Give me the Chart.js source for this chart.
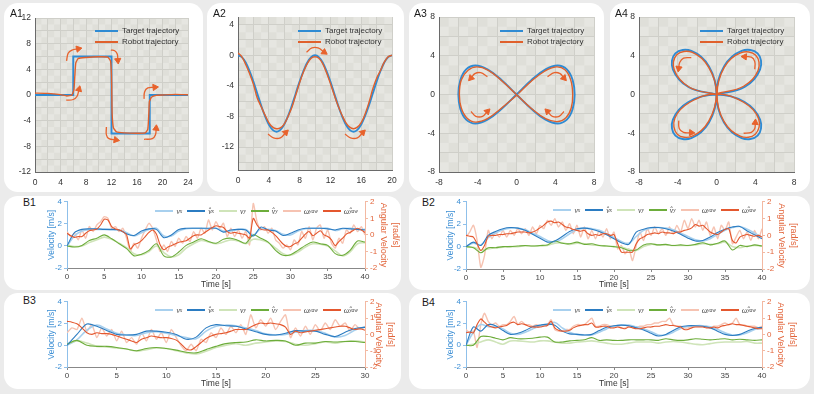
<!DOCTYPE html>
<html><head><meta charset="utf-8">
<script src="https://cdn.jsdelivr.net/npm/chart.js@4.4.1/dist/chart.umd.min.js"></script>
<style>
html,body{margin:0;padding:0}
body{width:814px;height:394px;background:#ebebeb;position:relative;overflow:hidden;font-family:"Liberation Sans",Arial,sans-serif}
.panel{position:absolute;background:#fff;border-radius:14px}
canvas{position:absolute}
.ttl{position:absolute;font-size:10.5px;color:#1a1a1a;line-height:12px}
.alg{position:absolute;font-size:8px;color:#333}
.alg .row{display:flex;align-items:center;height:11px;white-space:nowrap}
.alg .sw{display:inline-block;width:23px;height:2px;margin-right:4px}
.blg{position:absolute;display:flex;align-items:center;height:10px;font-family:"Liberation Serif","DejaVu Serif",serif;font-style:italic;font-size:7.5px;color:#444;white-space:nowrap}
.blg .it{display:flex;align-items:center;margin-left:5px}
.blg .sw{display:inline-block;width:18px;height:1.6px;margin-right:3px}
.blg sub{font-size:5.5px;vertical-align:-1.5px}
</style></head><body>
<script>
// ---------------- DATA ----------------
// A panels (x, y pairs of trajectories)
const a1Target = [[0,0],[6,0],[6,6],[12,6],[12,-6],[18,-6],[18,0],[24,0]];
const a1Robot = [[0,0.3],[2,0.25],[4,0.05],[5,-0.15],[5.8,0.0],[6.1,0.8],[6.25,3],[6.4,5.0],[6.8,5.7],[8,5.85],[10,5.95],[11.4,5.9],[11.85,5.3],[12.0,3],[12.05,0],[12.1,-3],[12.3,-5.1],[12.8,-5.75],[14,-5.9],[16,-5.95],[17.3,-5.9],[17.7,-5.3],[17.85,-3],[17.95,-1],[18.3,-0.3],[19,-0.05],[20,0.0],[22,0.1],[24,0.05]];
const a2Step = 0.5;
const a2Target = [0,-0.24,-0.95,-2.06,-3.45,-5,-6.55,-7.94,-9.05,-9.76,-10,-9.76,-9.05,-7.94,-6.55,-5,-3.45,-2.06,-0.95,-0.24,0,-0.24,-0.95,-2.06,-3.45,-5,-6.55,-7.94,-9.05,-9.76,-10,-9.76,-9.05,-7.94,-6.55,-5,-3.45,-2.06,-0.95,-0.24,0];
const a2Robot = [0.3,-0.2,-1.2,-2.4,-3.8,-5.6,-6.7,-7.8,-8.8,-9.4,-9.6,-9.5,-9.0,-8.0,-6.8,-5.2,-3.6,-2.2,-1.1,-0.4,-0.2,-0.4,-1.1,-2.3,-3.7,-5.2,-6.6,-7.8,-8.8,-9.4,-9.6,-9.4,-8.8,-7.7,-6.2,-4.4,-3.0,-2.0,-0.9,-0.2,0.0];
const a3Target = [[0,0],[1.553,1.5],[3,2.598],[4.243,3],[5.196,2.598],[5.796,1.5],[6,0],[5.796,-1.5],[5.196,-2.598],[4.243,-3],[3,-2.598],[1.553,-1.5],[0,0],[-1.553,1.5],[-3,2.598],[-4.243,3],[-5.196,2.598],[-5.796,1.5],[-6,0],[-5.796,-1.5],[-5.196,-2.598],[-4.243,-3],[-3,-2.598],[-1.553,-1.5],[0,0]];
const a3Robot = [[0.2,0.1],[1.5,1.35],[2.9,2.4],[4.1,2.85],[5.0,2.55],[5.6,1.5],[5.8,0.0],[5.65,-1.4],[5.1,-2.4],[4.2,-2.8],[3.0,-2.5],[1.6,-1.5],[0.1,-0.1],[-1.5,1.4],[-2.9,2.5],[-4.1,2.85],[-5.0,2.5],[-5.7,1.5],[-5.9,0.0],[-5.7,-1.4],[-5.1,-2.45],[-4.2,-2.85],[-3.0,-2.5],[-1.6,-1.45],[0.0,-0.1]];
const a4Target = [[0,0],[2.898,0.776],[4.5,2.598],[4.243,4.243],[2.598,4.5],[0.776,2.898],[0,0],[0.776,-2.898],[2.598,-4.5],[4.243,-4.243],[4.5,-2.598],[2.898,-0.776],[0,0],[-2.898,-0.776],[-4.5,-2.598],[-4.243,-4.243],[-2.598,-4.5],[-0.776,-2.898],[0,0],[-0.776,2.898],[-2.598,4.5],[-4.243,4.243],[-4.5,2.598],[-2.898,0.776],[0,0]];
const a4Robot = [[0.1,0.1],[2.8,0.85],[4.3,2.5],[4.05,4.05],[2.5,4.3],[0.8,2.8],[0.05,0.0],[0.75,-2.75],[2.45,-4.3],[4.0,-4.1],[4.35,-2.5],[2.8,-0.8],[0.0,0.05],[-2.75,-0.8],[-4.3,-2.45],[-4.05,-4.1],[-2.5,-4.3],[-0.8,-2.75],[0.0,0.1],[-0.8,2.8],[-2.5,4.35],[-4.1,4.1],[-4.35,2.5],[-2.8,0.75],[0.0,0.0]];
// direction arrows (data coordinates, last point = arrow head)
const a1Arrows = [[[4.95,5.3],[5.2,6.5],[5.8,7.0],[6.8,7.2]],[[11.9,7.0],[12.5,6.9],[12.9,6.4],[13.0,5.4]],[[4.9,-0.8],[6.0,-0.7],[6.6,-0.2],[6.9,0.9]],[[11.2,-5.0],[11.2,-6.2],[11.6,-6.8],[12.7,-7.0]],[[17.1,-6.9],[18.4,-6.8],[18.9,-6.2],[19.0,-5.2]],[[17.1,-0.6],[17.2,0.5],[17.7,1.1],[18.8,1.2]]];
const a2Arrows = [[[8.9,0.4],[9.6,0.95],[10.4,0.95],[11.2,0.4]],[[3.9,-10.3],[4.6,-10.8],[5.5,-10.8],[6.2,-10.1]],[[13.9,-10.3],[14.6,-10.8],[15.5,-10.8],[16.2,-10.1]]];
const a3Arrows = [[[3.2,1.85],[3.9,2.25],[4.5,2.15],[4.9,1.7]],[[-3.0,1.85],[-3.7,2.25],[-4.3,2.15],[-4.7,1.7]],[[-4.7,-1.75],[-4.2,-2.25],[-3.5,-2.25],[-3.0,-1.75]],[[4.9,-1.75],[4.4,-2.25],[3.7,-2.25],[3.2,-1.75]]];
const a4Arrows = [[[-2.6,3.8],[-3.4,3.75],[-3.8,3.3],[-3.9,2.7]],[[3.95,2.6],[3.95,3.4],[3.6,3.85],[2.9,3.9]],[[-3.9,-2.7],[-3.85,-3.5],[-3.4,-3.9],[-2.6,-3.95]],[[2.8,-4.0],[3.6,-3.9],[3.95,-3.5],[4.0,-2.9]]];
// A tick labels
const a1XLabels = [0,4,8,12,16,20,24];
const a1YLabels = [-12,-8,-4,0,4,8,12];
const a2XLabels = [0,4,8,12,16,20];
const a2YLabels = [-12,-8,-4,0,4];
const a34Labels = [-8,-4,0,4,8];
const aLegendLabels = ['Target trajectory','Robot trajectory'];
const panelTitles = ['A1','A2','A3','A4','B1','B2','B3','B4'];

// B panels: velocities sampled every 1 s, angular velocities every 0.5 s
const vStep = 1, wStep = 0.5;
const b1Vx    = [0,0.9,1.35,1.5,1.5,1.5,1.45,1.45,1.2,0.9,1.2,1.5,1.6,0.9,0.9,1.35,1.55,1.6,1.6,1.55,1.6,1.35,1.35,1.5,1.5,1.0,1.55,1.5,1.4,1.05,1.0,1.35,1.55,1.6,1.6,1.6,1.4,1.55,1.6,1.5,1.5];
const b1VxHat = [0,1.2,1.5,1.55,1.55,1.5,1.5,1.45,1.1,0.95,1.35,1.55,1.5,0.75,1.0,1.5,1.6,1.6,1.6,1.6,1.6,1.25,1.45,1.5,1.45,0.9,1.7,1.45,1.35,0.95,1.15,1.45,1.6,1.6,1.6,1.55,1.45,1.6,1.55,1.5,1.45];
const b1Vy    = [0.1,-0.05,0.0,0.3,0.55,0.8,0.6,0.25,-0.15,-0.7,-0.8,-0.5,0.0,-0.6,-1.0,-0.8,-0.2,0.2,0.5,0.35,0.2,0.35,0.55,0.45,0.2,0.6,0.55,0.3,-0.2,-0.7,-0.85,-0.55,-0.1,0.2,0.15,0.0,-0.45,-0.9,-0.55,0.2,0.3];
const b1VyHat = [0,-0.1,0.05,0.5,0.7,1.0,0.65,0.2,-0.25,-0.9,-0.75,-0.4,0.2,-0.9,-1.0,-0.55,0.05,0.35,0.65,0.4,0.25,0.6,0.7,0.5,0.25,1.0,0.7,0.35,-0.4,-0.85,-0.8,-0.4,0.05,0.35,0.2,0.05,-0.7,-0.85,-0.4,0.45,0.35];
const b1W     = [0.2,-0.1,0.1,-0.3,0.3,-0.2,0.5,0.2,0.6,0.8,1.1,1.0,0.4,0.5,0.2,0.4,-0.2,-1.0,-0.5,-0.8,-0.2,0.3,0.7,0.4,-0.3,-1.0,-0.6,-1.0,-0.4,-0.7,-0.2,-0.5,-0.1,-0.4,0.2,-0.2,0.4,0.1,0.9,0.3,0.8,0.4,0.7,-0.1,0.4,-0.1,0.3,-0.2,0.2,-0.6,1.9,0.8,0.3,0.5,0.1,0.4,-0.3,-0.5,-0.8,-0.6,-0.9,-0.3,-0.6,0.2,-0.2,0.5,-0.3,0.4,0.6,-0.2,0.3,-0.5,-0.8,-0.2,-0.5,0.3,0.1,0.6,0.2,0.5,0.0];
const b1WHat  = [0.1,-0.05,-0.15,-0.1,-0.1,0.1,0.25,0.3,0.35,0.6,0.95,0.9,0.5,0.35,0.3,0.2,0.0,-0.85,-0.6,-0.5,-0.35,-0.1,0.15,0.3,0.05,-0.6,-0.9,-0.75,-0.65,-0.55,-0.45,-0.4,-0.35,-0.2,-0.05,0.0,0.0,0.15,0.3,0.45,0.55,0.5,0.45,0.2,0.1,0.15,0.1,0.05,0.0,-0.2,1.0,0.6,0.35,0.3,0.3,0.15,-0.05,-0.3,-0.55,-0.7,-0.7,-0.55,-0.45,-0.2,0.05,0.2,-0.05,0.1,0.25,0.0,-0.1,-0.3,-0.65,-0.4,-0.2,0.05,0.15,0.3,0.4,0.3,0.15];

const b2Vx    = [0,0.3,0.15,0.8,1.2,1.5,1.65,1.65,1.5,1.2,0.9,0.55,0.4,0.7,1.15,1.5,1.65,1.6,1.45,1.15,0.8,0.45,0.3,0.9,1.45,1.65,1.7,1.65,1.5,1.2,0.9,0.6,0.5,0.7,1.1,1.45,1.7,1.8,1.55,1.2,0.85];
const b2VxHat = [0,0.4,0.1,1.0,1.35,1.6,1.7,1.65,1.45,1.1,0.75,0.4,0.5,0.9,1.35,1.6,1.65,1.55,1.35,1.05,0.7,0.35,0.2,1.3,1.55,1.7,1.7,1.6,1.4,1.1,0.75,0.5,0.55,0.85,1.25,1.55,1.75,1.8,1.4,1.05,0.7];
const b2Vy    = [0,-0.05,-0.3,-0.2,-0.1,-0.05,0.0,0.0,0.05,0.05,0.05,0.1,0.3,0.35,0.2,0.3,0.25,0.15,0.1,0.05,0.0,-0.05,-0.25,-0.35,0.0,0.2,0.15,0.15,0.1,0.1,0.1,0.15,0.25,0.2,0.25,0.4,0.0,-0.1,0.05,0.1,0.05];
const b2VyHat = [0,-0.1,-0.55,-0.1,-0.1,0.0,0.0,0.05,0.1,0.05,0.1,0.15,0.5,0.3,0.25,0.4,0.2,0.25,0.1,0.05,0.0,-0.1,-0.35,-0.3,0.15,0.25,0.15,0.2,0.1,0.15,0.1,0.2,0.35,0.15,0.3,0.5,-0.3,0.1,0.0,0.15,0.05];
const b2W     = [-0.1,0.2,0.6,-0.3,-1.9,-1.2,0.3,-0.2,0.2,-0.1,0.3,-0.1,0.3,0.0,0.4,0.1,0.4,0.0,0.5,0.1,0.6,0.4,0.9,0.6,1.0,0.5,0.8,0.3,0.7,0.1,0.6,-0.1,0.5,-0.2,0.3,-0.2,0.3,-0.1,0.4,-0.2,0.2,-0.8,-0.6,-1.1,-0.8,-1.5,-0.6,0.2,-0.3,0.4,0.0,0.5,0.1,0.4,0.0,0.5,0.1,0.6,0.2,0.9,0.4,1.0,0.5,0.9,0.3,0.8,0.0,0.5,-0.2,0.6,0.3,0.8,-0.5,-0.1,0.3,-0.2,0.2,-0.3,0.3,-0.2,0.4];
const b2WHat  = [0.0,-0.05,-0.1,-0.5,-0.9,-0.6,-0.05,0.0,0.0,0.05,0.05,0.1,0.1,0.15,0.2,0.2,0.2,0.15,0.2,0.3,0.45,0.6,0.8,0.85,0.75,0.8,0.65,0.5,0.45,0.35,0.3,0.25,0.3,0.1,0.0,0.05,0.0,0.1,0.1,0.0,0.05,-0.5,-1.0,-1.0,-1.0,-1.0,-0.5,-0.2,-0.1,0.05,0.1,0.15,0.1,0.2,0.15,0.15,0.1,0.2,0.2,0.3,0.35,0.45,0.65,0.55,0.6,0.4,0.2,0.1,0.05,0.2,0.35,0.4,-0.3,-0.45,-0.1,0.0,0.05,0.0,-0.05,0.0,-0.1];

const b3Vx    = [0,0.5,1.4,1.85,1.5,1.1,0.95,0.9,1.15,1.25,1.1,0.9,0.7,0.6,1.3,1.75,1.85,1.8,1.6,1.35,1.05,0.95,1.0,1.2,1.35,1.35,1.1,0.75,0.9,1.4,1.7];
const b3VxHat = [0,1.0,1.95,1.75,1.35,1.0,0.95,1.0,1.3,1.3,1.2,1.0,0.55,0.75,1.6,1.9,1.8,1.75,1.5,1.25,1.0,0.95,1.1,1.35,1.3,1.3,1.0,0.8,1.2,1.55,1.65];
const b3Vy    = [0.1,0.4,0.2,-0.1,-0.15,-0.25,-0.35,-0.55,-0.4,-0.25,-0.3,-0.5,-0.7,-0.8,-0.55,-0.2,0.0,0.15,0.0,0.2,0.3,0.4,0.35,0.1,0.0,0.15,0.3,0.2,0.35,0.4,0.3];
const b3VyHat = [0.1,0.45,0.0,-0.1,-0.1,-0.2,-0.35,-0.5,-0.3,-0.2,-0.3,-0.45,-0.65,-0.7,-0.4,-0.1,0.15,0.25,0.3,0.5,0.4,0.45,0.4,0.0,0.2,0.2,0.35,0.3,0.35,0.35,0.25];
const b3W     = [0.1,0.4,0.3,1.0,0.2,0.6,-0.2,0.4,-0.1,0.3,-0.4,0.2,-0.5,-0.2,-0.6,0.1,-0.4,0.3,-0.3,0.1,-0.5,0.3,-0.2,-0.7,-1.0,-0.6,-1.0,-0.3,-0.5,0.1,-0.2,0.4,0.0,0.5,0.1,0.6,0.0,1.2,0.4,0.9,0.5,1.0,0.3,0.8,1.2,-0.2,0.4,-0.1,0.5,0.0,0.6,0.2,0.7,0.3,0.9,0.5,0.7,0.2,0.6,0.3,0.5];
const b3WHat  = [0.8,0.75,0.65,0.4,0.1,0.0,0.1,0.05,0.05,0.0,-0.1,-0.2,-0.3,-0.4,-0.5,-0.3,-0.2,-0.1,-0.15,-0.2,-0.2,-0.25,-0.35,-0.6,-0.9,-0.95,-0.75,-0.5,-0.25,-0.1,0.0,0.05,0.1,0.2,0.3,0.3,0.3,0.45,0.6,0.7,0.65,0.7,0.65,0.6,0.45,0.0,0.2,0.1,0.15,0.2,0.25,0.3,0.35,0.4,0.45,0.5,0.5,0.4,0.3,0.35,0.25];

const b4Vx    = [0,1.2,1.9,1.7,1.7,1.5,1.1,1.0,1.2,1.5,1.75,1.85,2.1,1.6,1.2,1.0,0.95,0.95,1.2,1.5,1.75,1.85,1.85,1.7,1.5,1.25,0.95,0.95,1.2,1.55,1.75,1.8,1.8,1.7,1.45,1.15,0.95,0.95,1.15,1.45,1.6];
const b4VxHat = [0,1.7,1.3,1.9,1.8,1.35,1.0,1.1,1.35,1.7,1.85,1.95,1.85,1.3,1.05,1.0,0.95,1.0,1.35,1.65,1.8,1.85,1.8,1.6,1.4,1.1,0.85,1.0,1.35,1.7,1.8,1.8,1.75,1.6,1.3,1.0,0.9,1.0,1.3,1.55,1.65];
const b4Vy    = [0,0.1,0.3,0.5,0.3,0.1,0.4,0.4,0.35,0.3,0.4,0.4,0.3,0.2,0.2,0.3,0.35,0.4,0.3,0.2,0.1,0.1,0.2,0.3,0.3,0.3,0.2,0.3,0.35,0.3,0.2,0.1,0.05,0.15,0.25,0.3,0.3,0.3,0.35,0.2,0.2];
const b4VyHat = [0,0.0,0.8,0.8,0.65,0.5,0.7,0.6,0.6,0.65,0.75,0.75,0.3,0.3,0.4,0.45,0.5,0.7,0.45,0.5,0.45,0.45,0.5,0.5,0.5,0.5,0.45,0.6,0.5,0.45,0.5,0.6,0.55,0.5,0.55,0.6,0.5,0.55,0.5,0.45,0.5];
const b4W     = [0.3,0.1,0.2,-0.8,0.6,1.3,0.8,0.6,0.7,0.5,0.6,0.6,0.8,1.1,0.6,0.8,0.6,0.6,0.5,0.6,0.5,0.6,0.6,0.9,0.3,0.2,0.2,0.3,0.3,0.5,0.6,0.6,0.6,0.8,1.0,0.5,0.5,0.6,0.6,0.5,0.5,0.5,0.4,0.4,0.5,0.5,0.4,0.5,0.5,0.6,0.6,0.7,0.7,0.8,0.8,1.0,0.6,0.5,0.5,0.4,0.4,0.5,0.5,0.5,0.5,0.5,0.4,0.5,0.5,0.6,0.7,0.6,0.7,1.0,0.6,0.6,0.5,0.5,0.5,0.4,0.5];
const b4WHat  = [0.1,0.15,0.1,0.6,0.95,0.75,0.55,0.45,0.4,0.45,0.5,0.55,0.7,0.75,0.6,0.65,0.6,0.5,0.45,0.45,0.45,0.5,0.55,0.8,0.4,0.25,0.2,0.2,0.25,0.4,0.5,0.55,0.6,0.6,0.7,0.45,0.45,0.5,0.5,0.4,0.4,0.45,0.4,0.35,0.45,0.4,0.35,0.35,0.4,0.45,0.45,0.5,0.5,0.55,0.6,0.55,0.55,0.5,0.45,0.3,0.3,0.4,0.45,0.45,0.45,0.4,0.4,0.45,0.4,0.5,0.55,0.6,0.65,0.6,0.6,0.55,0.5,0.45,0.4,0.35,0.35];

const bLegendBase = ['v','v\u0302','v','v\u0302','\u03c9','\u03c9\u0302'];
const bLegendSub  = ['x','x','y','y','yaw','yaw'];
const bXTitle = 'Time [s]';
const bLeftTitle = 'Velocity [m/s]';
const bRightTitle = ['[rad/s]','Angular Velocity'];

// ---------------- STYLE ----------------
const TGT = '#2f8bd3', ROB = '#e0602c', ARR = '#e8622c', GRID = '#cfcfc9';
const C_VXL = '#a8d0ee', C_VX = '#2b7cc2', C_VYL = '#cfe4b9', C_VY = '#6dad3b', C_WL = '#f6c3b2', C_W = '#e4572e';
const AX_B = '#3b8ed4', AX_BL = '#8fc0ea', AX_O = '#e2643a', AX_OL = '#f3b9a2';
Chart.defaults.font.family = '"Liberation Sans", Arial, sans-serif';

const panels = [
  {l:4,t:3,w:199,h:189},{l:207,t:3,w:197,h:189},{l:409,t:3,w:195,h:189},{l:610,t:3,w:200,h:189},
  {l:4,t:196,w:397,h:94},{l:409,t:196,w:401,h:94},{l:4,t:293,w:397,h:96},{l:409,t:293,w:401,h:96}
];
panels.forEach(p=>{const d=document.createElement('div');d.className='panel';Object.assign(d.style,{left:p.l+'px',top:p.t+'px',width:p.w+'px',height:p.h+'px'});document.body.appendChild(d);});

function mkCanvas(l,t,w,h){const c=document.createElement('canvas');c.width=w;c.height=h;Object.assign(c.style,{left:l+'px',top:t+'px',width:w+'px',height:h+'px'});document.body.appendChild(c);return c;}
const pts = arr => arr.map(([x,y])=>({x,y}));
const ser = (arr, step) => arr.map((v,i)=>({x:i*step, y:v}));

const plotBg = {
  id:'plotBg',
  beforeDraw(chart, args, o){
    if(!o || !o.color) return;
    const {ctx, chartArea:a, scales:{x,y}} = chart;
    ctx.save(); ctx.fillStyle=o.color; ctx.fillRect(a.left,a.top,a.width,a.height);
    ctx.fillStyle=o.checker;
    for(let i=0;x.min+i*o.cell<x.max-1e-9;i++){
      for(let j=0;y.min+j*o.cell<y.max-1e-9;j++){
        if((i+j)%2===0) continue;
        const x0=x.getPixelForValue(x.min+i*o.cell), x1=x.getPixelForValue(Math.min(x.min+(i+1)*o.cell,x.max));
        const y0=y.getPixelForValue(y.min+j*o.cell), y1=y.getPixelForValue(Math.min(y.min+(j+1)*o.cell,y.max));
        ctx.fillRect(x0,y1,x1-x0,y0-y1);
      }
    }
    ctx.restore();
  }
};

function aChart(P, C, xr, yr, xLab, yLab, target, robot, arrows, tens){
  const cv = mkCanvas(C.l, C.t, C.r-C.l, C.b-C.t);
  const ds = [
    {data:target, borderColor:TGT, borderWidth:1.9, tension:tens[0], order:2, pointRadius:0},
    {data:robot, borderColor:ROB, borderWidth:1.4, tension:tens[1], order:1, pointRadius:0}
  ];
  arrows.forEach(a=>{
    const n=a.length, [x1,y1]=a[n-2], [x2,y2]=a[n-1];
    const rot = Math.atan2(x2-x1, y2-y1)*180/Math.PI;
    ds.push({data:pts(a), borderColor:ARR, borderWidth:1.3, tension:0.4, order:0,
      pointRadius:a.map((_,i)=>i===n-1?3.6:0), pointStyle:'triangle', pointRotation:rot,
      pointBackgroundColor:ARR, pointBorderColor:ARR, pointBorderWidth:1});
  });
  ds.forEach(d=>{d.showLine=true; d.fill=false;});
  const gridTicks=(mn,mx)=>{const r=[];for(let v=Math.ceil(mn/2)*2; v<=mx+1e-9; v+=2) r.push({value:v}); return r;};
  const axis = (rng, lab, isX) => ({
    type:'linear', min:rng[0], max:rng[1],
    afterBuildTicks:s=>{s.ticks=gridTicks(rng[0],rng[1]);},
    ticks:{autoSkip:false, maxRotation:0, padding:isX?6:4, color:'#333', font:{size:8.5}, callback:v=>lab.includes(v)?String(v):''},
    grid:{color:GRID, drawTicks:false, lineWidth:1},
    border:{color:'#6a6a6a', width:1},
    afterFit: isX ? (s=>{s.height=C.b-P.b;}) : (s=>{s.width=P.l-C.l;})
  });
  new Chart(cv,{type:'scatter', data:{datasets:ds}, plugins:[plotBg], options:{
    responsive:false, animation:false, devicePixelRatio:1,
    layout:{padding:{top:P.t-C.t, right:C.r-P.r, left:0, bottom:0}},
    plugins:{legend:{display:false}, tooltip:{enabled:false}, plotBg:{color:'#e6e6e1', checker:'#dfdfd9', cell:1}},
    scales:{x:axis(xr,xLab,true), y:axis(yr,yLab,false)}
  }});
}

aChart({l:35,t:18,r:188,b:172},{l:5,t:3,r:203,b:192},[0,24],[-12,12],a1XLabels,a1YLabels,pts(a1Target),pts(a1Robot),a1Arrows,[0,0.15]);
aChart({l:238,t:17,r:392,b:170},{l:207,t:3,r:404,b:192},[0,20],[-15,5],a2XLabels,a2YLabels,ser(a2Target,a2Step),ser(a2Robot,a2Step),a2Arrows,[0.4,0.4]);
aChart({l:439,t:17,r:594,b:172},{l:409,t:3,r:604,b:192},[-8,8],[-8,8],a34Labels,a34Labels,pts(a3Target),pts(a3Robot),a3Arrows,[0.4,0.4]);
aChart({l:639,t:17,r:794,b:172},{l:610,t:3,r:810,b:192},[-8,8],[-8,8],a34Labels,a34Labels,pts(a4Target),pts(a4Robot),a4Arrows,[0.4,0.4]);

function bChart(P, rightW, xH, tMax, s){
  const cl=P.l-22, ct=P.t-6;
  const cv = mkCanvas(cl, ct, P.r+rightW-cl, P.b+xH-ct);
  const L = (data, axis, color, w, order, tension) => ({data, yAxisID:axis, borderColor:color, borderWidth:w, order, tension, pointRadius:0, fill:false});
  const ds = [
    L(ser(s.w, wStep),'y1',C_WL,1.4,6,0.2),
    L(ser(s.vx, vStep),'y',C_VXL,1.6,5,0.35),
    L(ser(s.vy, vStep),'y',C_VYL,1.6,4,0.35),
    L(ser(s.vyh, vStep),'y',C_VY,1.1,3,0.3),
    L(ser(s.vxh, vStep),'y',C_VX,1.1,2,0.3),
    L(ser(s.wh, wStep),'y1',C_W,1.1,1,0.25)
  ];
  new Chart(cv,{type:'line', data:{datasets:ds}, options:{
    responsive:false, animation:false, devicePixelRatio:1,
    layout:{padding:{top:6,left:0,right:0,bottom:0}},
    plugins:{legend:{display:false}, tooltip:{enabled:false}},
    scales:{
      x:{type:'linear', min:0, max:tMax, ticks:{stepSize:5, font:{size:8}, color:'#444', padding:1, maxRotation:0},
         grid:{drawOnChartArea:false, drawTicks:true, tickLength:3, tickColor:'#888'}, border:{color:'#888'},
         title:{display:true, text:bXTitle, font:{size:8.5}, color:'#333', padding:{top:0,bottom:1}},
         afterFit:sc=>{sc.height=xH;}},
      y:{position:'left', min:-2, max:4, ticks:{stepSize:2, font:{size:8}, color:AX_B, padding:2},
         grid:{drawOnChartArea:false, drawTicks:true, tickLength:3, tickColor:AX_BL}, border:{color:AX_BL},
         title:{display:true, text:bLeftTitle, color:AX_B, font:{size:8.5}, padding:{top:2,bottom:0}},
         afterFit:sc=>{sc.width=22;}},
      y1:{position:'right', min:-2, max:2, ticks:{stepSize:1, font:{size:8}, color:AX_O, padding:2},
         grid:{drawOnChartArea:false, drawTicks:true, tickLength:3, tickColor:AX_OL}, border:{color:AX_OL},
         title:{display:true, text:bRightTitle, color:AX_O, font:{size:9, lineHeight:1.3}, padding:{top:4,bottom:0}},
         afterFit:sc=>{sc.width=rightW;}}
    }
  }});
}
bChart({l:67,t:201,r:365,b:268},40,23,40,{vx:b1Vx,vxh:b1VxHat,vy:b1Vy,vyh:b1VyHat,w:b1W,wh:b1WHat});
bChart({l:466,t:201,r:762,b:269},41,22,40,{vx:b2Vx,vxh:b2VxHat,vy:b2Vy,vyh:b2VyHat,w:b2W,wh:b2WHat});
bChart({l:67,t:301,r:365,b:367},35,23,30,{vx:b3Vx,vxh:b3VxHat,vy:b3Vy,vyh:b3VyHat,w:b3W,wh:b3WHat});
bChart({l:466,t:301,r:762,b:367},40,23,40,{vx:b4Vx,vxh:b4VxHat,vy:b4Vy,vyh:b4VyHat,w:b4W,wh:b4WHat});

// ---------------- TEXT OVERLAYS ----------------
const titlePos = [[10,7],[213,7],[414,7],[615,7],[23,196],[422,196],[23,294],[422,296]];
panelTitles.forEach((t,i)=>{const d=document.createElement('div');d.className='ttl';d.textContent=t;d.style.left=titlePos[i][0]+'px';d.style.top=titlePos[i][1]+'px';document.body.appendChild(d);});

[[95,25],[298,25],[500,25],[700,25]].forEach(([l,t])=>{
  const g=document.createElement('div'); g.className='alg'; g.style.left=l+'px'; g.style.top=t+'px';
  [TGT,ROB].forEach((c,i)=>{const r=document.createElement('div');r.className='row';const sw=document.createElement('span');sw.className='sw';sw.style.background=c;r.appendChild(sw);r.appendChild(document.createTextNode(aLegendLabels[i]));g.appendChild(r);});
  document.body.appendChild(g);
});

const bCols = [C_VXL,C_VX,C_VYL,C_VY,C_WL,C_W];
[[358,206],[756,205],[358,305],[756,305]].forEach(([r,t])=>{
  const g=document.createElement('div'); g.className='blg'; g.style.right=(814-r)+'px'; g.style.top=t+'px';
  bLegendBase.forEach((b,i)=>{
    const it=document.createElement('span'); it.className='it';
    const sw=document.createElement('span'); sw.className='sw'; sw.style.background=bCols[i]; it.appendChild(sw);
    it.appendChild(document.createTextNode(b));
    const sb=document.createElement('sub'); sb.textContent=bLegendSub[i]; it.appendChild(sb);
    g.appendChild(it);
  });
  document.body.appendChild(g);
});
</script>
</body></html>
